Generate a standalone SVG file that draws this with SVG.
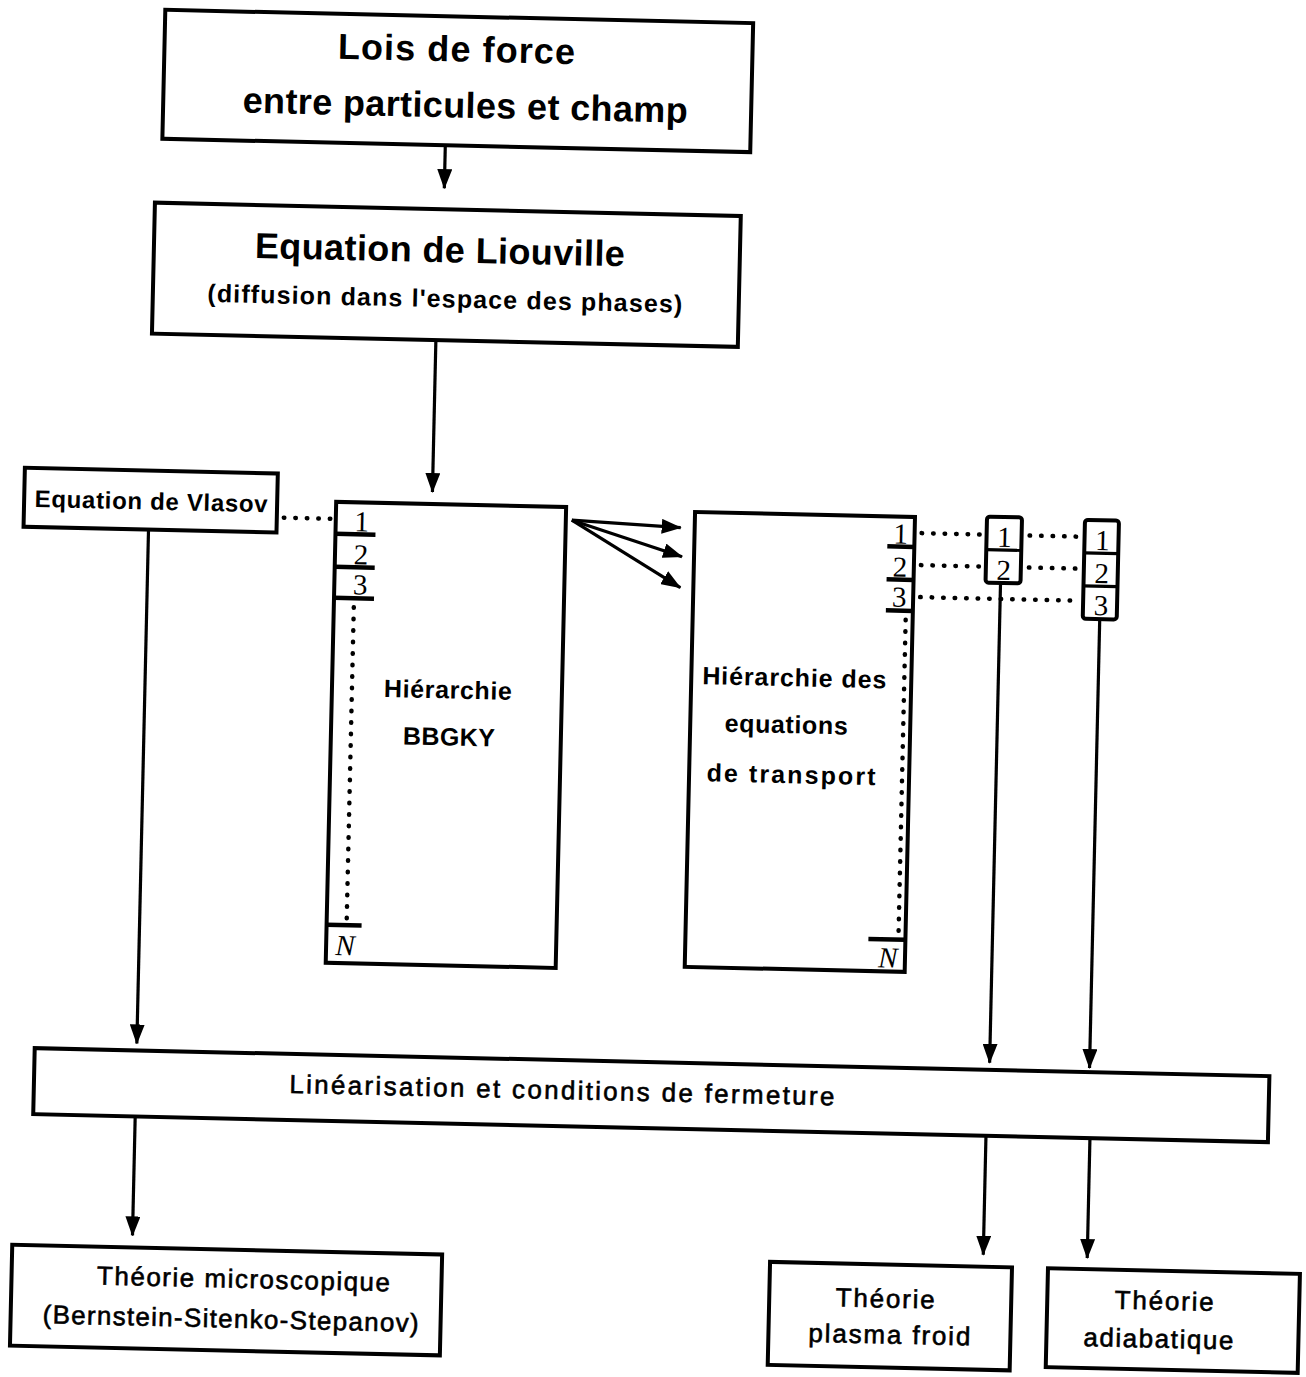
<svg xmlns="http://www.w3.org/2000/svg" width="1306" height="1377" viewBox="0 0 1306 1377">
<defs>
<style>
.box{fill:#fff;stroke:#000;stroke-width:4}
.ln{fill:none;stroke:#000;stroke-width:3.2}
.tab{fill:none;stroke:#000;stroke-width:4.5}
.dot{fill:none;stroke:#000;stroke-width:4.5;stroke-linecap:round;stroke-dasharray:0.5 11}
.t{font-family:"Liberation Sans",Arial,sans-serif;fill:#000;text-anchor:middle}
.b{font-weight:bold}
.num{font-family:"Liberation Serif","Times New Roman",serif;font-size:29px;fill:#000;text-anchor:middle}
.nn{font-family:"Liberation Serif","Times New Roman",serif;font-size:29px;font-style:italic;fill:#000;text-anchor:middle}
</style>
<marker id="ah" markerUnits="userSpaceOnUse" markerWidth="20" markerHeight="15" refX="19" refY="7.5" orient="auto">
<path d="M0,0 L20,7.5 L0,15 Z" fill="#000"/>
</marker>
</defs>
<rect width="1306" height="1377" fill="#fff"/>
<g transform="rotate(1.3 650 690)">
<g id="connectors">
<line class="ln" x1="433" y1="150" x2="433" y2="193" marker-end="url(#ah)"/>
<line class="ln" x1="428" y1="345" x2="428" y2="497" marker-end="url(#ah)"/>
<line class="ln" x1="145" y1="541" x2="145" y2="1055" marker-end="url(#ah)"/>
<line class="ln" x1="568" y1="522" x2="677" y2="527" marker-end="url(#ah)"/>
<line class="ln" x1="568" y1="522" x2="679" y2="556" marker-end="url(#ah)"/>
<line class="ln" x1="568" y1="522" x2="678" y2="587" marker-end="url(#ah)"/>
<line class="ln" x1="998" y1="575" x2="998" y2="1055" marker-end="url(#ah)"/>
<line class="ln" x1="1098" y1="609" x2="1098" y2="1058" marker-end="url(#ah)"/>
<line class="ln" x1="145" y1="1128" x2="145" y2="1247" marker-end="url(#ah)"/>
<line class="ln" x1="996" y1="1128" x2="996" y2="1247" marker-end="url(#ah)"/>
<line class="ln" x1="1100" y1="1128" x2="1100" y2="1248" marker-end="url(#ah)"/>
<line class="dot" x1="280" y1="526" x2="330" y2="526"/>
<line class="dot" x1="918" y1="527" x2="981" y2="527"/>
<line class="dot" x1="918" y1="559" x2="981" y2="559"/>
<line class="dot" x1="918" y1="591" x2="1079" y2="591"/>
<line class="dot" x1="1026" y1="527" x2="1079" y2="527"/>
<line class="dot" x1="1026" y1="559" x2="1079" y2="559"/>
</g>
<g id="lois">
<rect class="box" x="150" y="21" width="588" height="129"/>
<text class="t b" x="442" y="66" font-size="36" textLength="237" lengthAdjust="spacing">Lois de force</text>
<text class="t b" x="452" y="122" font-size="36" textLength="445" lengthAdjust="spacing">entre particules et champ</text>
</g>
<g id="liouville">
<rect class="box" x="144" y="214" width="586" height="131"/>
<text class="t b" x="430" y="267" font-size="36" textLength="370" lengthAdjust="spacing">Equation de Liouville</text>
<text class="t b" x="436" y="312" font-size="25" textLength="475" lengthAdjust="spacing">(diffusion dans l'espace des phases)</text>
</g>
<g id="vlasov">
<rect class="box" x="20" y="482" width="253" height="59"/>
<text class="t b" x="147" y="521" font-size="24" textLength="233" lengthAdjust="spacing">Equation de Vlasov</text>
</g>
<g id="bbgky">
<rect class="box" x="332" y="509" width="230" height="461"/>
<line class="tab" x1="332" y1="541" x2="372" y2="541"/>
<line class="tab" x1="332" y1="574" x2="372" y2="574"/>
<line class="tab" x1="332" y1="605" x2="372" y2="605"/>
<text class="num" x="358" y="538">1</text>
<text class="num" x="358" y="571">2</text>
<text class="num" x="358" y="601">3</text>
<line class="dot" x1="352" y1="614" x2="352" y2="928"/>
<line class="tab" x1="332" y1="932" x2="367" y2="932"/>
<text class="nn" x="351" y="962">N</text>
<text class="t b" x="448" y="703" font-size="25" textLength="128" lengthAdjust="spacing">Hiérarchie</text>
<text class="t b" x="450" y="750" font-size="25" textLength="92" lengthAdjust="spacing">BBGKY</text>
</g>
<g id="transport">
<rect class="box" x="691" y="511" width="220" height="455"/>
<line class="tab" x1="884" y1="541" x2="911" y2="541"/>
<line class="tab" x1="884" y1="574" x2="911" y2="574"/>
<line class="tab" x1="884" y1="605" x2="911" y2="605"/>
<text class="num" x="897" y="538">1</text>
<text class="num" x="897" y="571">2</text>
<text class="num" x="897" y="601">3</text>
<line class="dot" x1="904" y1="614" x2="904" y2="930"/>
<line class="tab" x1="874" y1="934" x2="911" y2="934"/>
<text class="nn" x="894" y="962">N</text>
<text class="t b" x="794" y="683" font-size="25" textLength="184" lengthAdjust="spacing">Hiérarchie des</text>
<text class="t b" x="787" y="730" font-size="25" textLength="123" lengthAdjust="spacing">equations</text>
<text class="t b" x="793" y="780" font-size="25" textLength="169" lengthAdjust="spacing">de transport</text>
</g>
<g id="moments2">
<rect class="box" x="983" y="509" width="35" height="66" rx="3"/>
<line class="ln" x1="983" y1="542" x2="1018" y2="542"/>
<text class="num" x="1001" y="539">1</text>
<text class="num" x="1001" y="572">2</text>
</g>
<g id="moments3">
<rect class="box" x="1081" y="510" width="34" height="99" rx="3"/>
<line class="ln" x1="1081" y1="543" x2="1115" y2="543"/>
<line class="ln" x1="1081" y1="576" x2="1115" y2="576"/>
<text class="num" x="1099" y="540">1</text>
<text class="num" x="1099" y="573">2</text>
<text class="num" x="1099" y="605">3</text>
</g>
<g id="linearisation">
<rect class="box" x="43" y="1062" width="1235" height="66"/>
<text class="t" x="571" y="1101" font-size="26" textLength="545" lengthAdjust="spacing" stroke="#000" stroke-width="0.6">Linéarisation et conditions de fermeture</text>
</g>
<g id="microscopique">
<rect class="box" x="25" y="1259" width="430" height="101"/>
<text class="t" x="257" y="1297" font-size="26" textLength="293" lengthAdjust="spacing" stroke="#000" stroke-width="0.6">Théorie microscopique</text>
<text class="t" x="245" y="1337" font-size="26" textLength="376" lengthAdjust="spacing" stroke="#000" stroke-width="0.6">(Bernstein-Sitenko-Stepanov)</text>
</g>
<g id="froid">
<rect class="box" x="783" y="1259" width="242" height="103"/>
<text class="t" x="899" y="1302" font-size="26" textLength="99" lengthAdjust="spacing" stroke="#000" stroke-width="0.6">Théorie</text>
<text class="t" x="904" y="1338" font-size="26" textLength="162" lengthAdjust="spacing" stroke="#000" stroke-width="0.6">plasma froid</text>
</g>
<g id="adiabatique">
<rect class="box" x="1061" y="1259" width="252" height="99"/>
<text class="t" x="1178" y="1298" font-size="26" textLength="99" lengthAdjust="spacing" stroke="#000" stroke-width="0.6">Théorie</text>
<text class="t" x="1173" y="1336" font-size="26" textLength="150" lengthAdjust="spacing" stroke="#000" stroke-width="0.6">adiabatique</text>
</g>
</g>
</svg>
